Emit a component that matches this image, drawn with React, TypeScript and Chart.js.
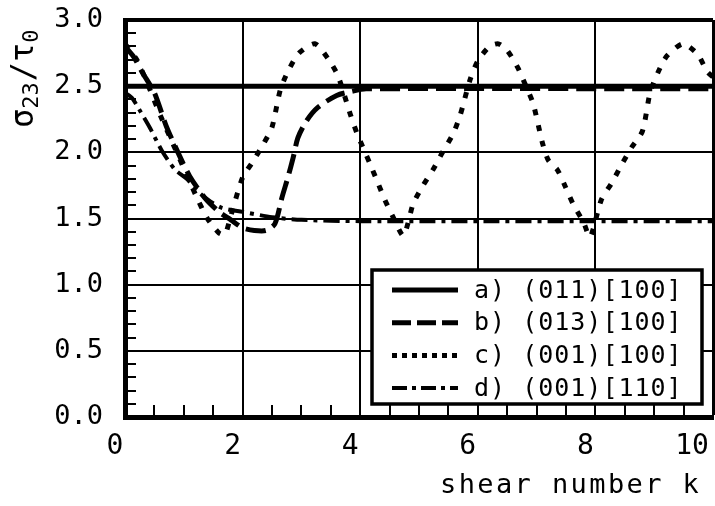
import React, { useEffect, useRef } from "react";
import { Chart, registerables } from "chart.js";

Chart.register(...registerables);

// ---- data ----
const X_TICKS = [0, 2, 4, 6, 8, 10];
const Y_TICKS = [0, 0.5, 1.0, 1.5, 2.0, 2.5, 3.0];
const X_MINOR = [0.5, 1, 1.5, 2.5, 3, 3.5, 4.5, 5, 5.5, 6.5, 7, 7.5, 8.5, 9, 9.5];
const Y_MINOR = [0.1, 0.2, 0.3, 0.4, 0.6, 0.7, 0.8, 0.9, 1.1, 1.2, 1.3, 1.4, 1.6, 1.7, 1.8, 1.9, 2.1, 2.2, 2.3, 2.4, 2.6, 2.7, 2.8, 2.9];

const SERIES_LABELS = ["a) (011)[100]", "b) (013)[100]", "c) (001)[100]", "d) (001)[110]"];
const X_TITLE = "shear number k";

const aX = [0, 10];
const aY = [2.5, 2.5];

const bX = [0, 0.15, 0.3, 0.5, 0.7, 0.9, 1.1, 1.35, 1.6, 1.8, 2.0, 2.2, 2.4, 2.55, 2.67, 2.77, 2.86, 2.94, 3.09, 3.28, 3.6, 3.85, 4.1, 10];
const bY = [2.8, 2.72, 2.6, 2.45, 2.2, 2.0, 1.82, 1.66, 1.55, 1.49, 1.43, 1.41, 1.41, 1.46, 1.66, 1.81, 1.96, 2.11, 2.24, 2.34, 2.43, 2.46, 2.48, 2.48];

const cX = [0, 0.2, 0.4, 0.6, 0.8, 1.0, 1.2, 1.4, 1.6, 1.7, 1.8, 2.0, 2.16, 2.35, 2.5, 2.64, 2.77, 2.96, 3.23, 3.45, 3.62, 3.83, 3.94, 4.17, 4.3, 4.42, 4.56, 4.73, 4.81, 4.9, 5.07, 5.24, 5.4, 5.58, 5.7, 5.87, 6.0, 6.2, 6.35, 6.5, 6.68, 6.8, 6.94, 7.1, 7.2, 7.35, 7.48, 7.62, 7.8, 7.91, 8.1, 8.28, 8.45, 8.62, 8.8, 8.93, 9.06, 9.22, 9.49, 9.74, 9.9, 10];
const cY = [2.82, 2.7, 2.5, 2.28, 2.08, 1.88, 1.68, 1.5, 1.39, 1.38, 1.52, 1.81, 1.92, 2.06, 2.19, 2.47, 2.61, 2.75, 2.82, 2.71, 2.58, 2.29, 2.15, 1.91, 1.77, 1.64, 1.51, 1.37, 1.46, 1.61, 1.75, 1.87, 2.0, 2.14, 2.28, 2.55, 2.69, 2.8, 2.82, 2.77, 2.64, 2.52, 2.37, 2.07, 1.94, 1.87, 1.75, 1.61, 1.47, 1.36, 1.64, 1.77, 1.91, 2.04, 2.16, 2.45, 2.6, 2.73, 2.82, 2.74, 2.61, 2.57];

const dX = [0, 0.12, 0.26, 0.43, 0.63, 0.85, 1.05, 1.25, 1.45, 1.65, 2.0, 2.5, 3.0, 4.0, 10];
const dY = [2.45, 2.41, 2.31, 2.18, 2.01, 1.87, 1.8, 1.7, 1.63, 1.58, 1.55, 1.51, 1.49, 1.48, 1.48];

const zip = (xs: number[], ys: number[]) => xs.map((x, i) => ({ x, y: ys[i] }));

const FONT = "'DejaVu Sans Mono', monospace";
const WIDTHS = [5, 5, 5, 4];
const DASHES: number[][] = [[], [20, 8], [6, 10], [16, 6, 4, 6]];
const LEGEND_DASHES: number[][] = [[], [19, 6], [5, 5], [15, 5, 4, 5]];

const decorPlugin = {
  id: "decor",
  beforeDatasetsDraw(chart: any) {
    const { ctx, chartArea, scales } = chart;
    const xs = scales.x;
    const ys = scales.y;
    ctx.save();
    ctx.strokeStyle = "#000";
    ctx.lineWidth = 2;
    ctx.beginPath();
    Y_MINOR.forEach((v) => {
      const py = Math.round(ys.getPixelForValue(v));
      ctx.moveTo(chartArea.left, py);
      ctx.lineTo(chartArea.left + 11, py);
    });
    X_MINOR.forEach((v) => {
      const px = Math.round(xs.getPixelForValue(v));
      ctx.moveTo(px, chartArea.bottom);
      ctx.lineTo(px, chartArea.bottom - 12);
    });
    ctx.stroke();
    // x tick labels
    ctx.fillStyle = "#000";
    ctx.font = `28px ${FONT}`;
    ctx.textBaseline = "middle";
    ctx.textAlign = "center";
    X_TICKS.forEach((v, i) => {
      const px = xs.getPixelForValue(v);
      const off = i === X_TICKS.length - 1 ? -21 : -10;
      ctx.fillText(String(v), px + off, chartArea.bottom + 30);
    });
    ctx.restore();
  },
  afterDraw(chart: any) {
    const { ctx, chartArea } = chart;
    ctx.save();
    // legend box
    const bl = chartArea.right - 341;
    const br = chartArea.right - 11;
    const bt = chartArea.bottom - 147;
    const bb = chartArea.bottom - 13;
    ctx.fillStyle = "#fff";
    ctx.fillRect(bl, bt, br - bl, bb - bt);
    ctx.strokeStyle = "#000";
    ctx.lineWidth = 3.5;
    ctx.strokeRect(bl, bt, br - bl, bb - bt);
    chart.data.datasets.forEach((ds: any, i: number) => {
      const cy = bt + 20 + i * 32.7;
      ctx.beginPath();
      ctx.setLineDash(LEGEND_DASHES[i]);
      ctx.lineWidth = WIDTHS[i];
      ctx.moveTo(bl + 20, cy);
      ctx.lineTo(bl + 86, cy);
      ctx.stroke();
      ctx.setLineDash([]);
      ctx.fillStyle = "#000";
      ctx.font = `25px ${FONT}`;
      (ctx as any).letterSpacing = "1px";
      ctx.textBaseline = "middle";
      ctx.textAlign = "left";
      ctx.fillText(ds.label, bl + 102, cy + 1);
      (ctx as any).letterSpacing = "0px";
    });
    // x title
    ctx.font = `27px ${FONT}`;
    (ctx as any).letterSpacing = "2.4px";
    ctx.textBaseline = "alphabetic";
    ctx.textAlign = "left";
    ctx.fillText(X_TITLE, 440, 493);
    (ctx as any).letterSpacing = "0px";
    // y title: sigma_23 / tau_0
    ctx.translate(33, 128);
    ctx.rotate(-Math.PI / 2);
    let x = 0;
    const part = (t: string, size: number, dy: number, gap: number) => {
      ctx.font = `${size}px ${FONT}`;
      ctx.fillText(t, x, dy);
      x += ctx.measureText(t).width + gap;
    };
    part("σ", 32, 0, 0);
    part("23", 22, 5, 1);
    part("/", 32, 0, 0);
    part("τ", 32, 0, 0);
    part("0", 22, 5, 0);
    ctx.restore();
  },
};

export default function App() {
  const ref = useRef<HTMLCanvasElement | null>(null);
  useEffect(() => {
    if (!ref.current) return;
    const series = [zip(aX, aY), zip(bX, bY), zip(cX, cY), zip(dX, dY)];
    const chart = new Chart(ref.current, {
      type: "line",
      data: {
        datasets: series.map((d, i) => ({
          label: SERIES_LABELS[i],
          data: d,
          borderColor: "#000",
          backgroundColor: "#000",
          borderWidth: WIDTHS[i],
          borderDash: DASHES[i],
          borderCapStyle: "butt",
          pointRadius: 0,
          tension: 0.25,
          fill: false,
        })),
      },
      options: {
        responsive: false,
        animation: false,
        devicePixelRatio: 1,
        layout: { padding: { top: 20, right: 2, left: 0, bottom: 0 } },
        plugins: { legend: { display: false }, tooltip: { enabled: false } },
        scales: {
          x: {
            type: "linear",
            min: 0,
            max: 10,
            afterBuildTicks: (s: any) => {
              s.ticks = X_TICKS.map((v) => ({ value: v }));
            },
            afterFit: (s: any) => {
              s.height = 89;
              s.paddingLeft = 0;
              s.paddingRight = 0;
            },
            grid: {
              color: "#000",
              lineWidth: (c: any) => (c.tick && c.tick.value === 10 ? 3 : 2),
              drawTicks: false,
            },
            border: { display: true, color: "#000", width: 5 },
            ticks: { display: false },
          },
          y: {
            type: "linear",
            min: 0,
            max: 3,
            afterBuildTicks: (s: any) => {
              s.ticks = Y_TICKS.map((v) => ({ value: v }));
            },
            afterFit: (s: any) => {
              s.width = 125;
              s.paddingTop = 0;
              s.paddingBottom = 0;
            },
            grid: {
              color: "#000",
              lineWidth: (c: any) => (c.tick && c.tick.value === 3 ? 4 : 2),
              drawTicks: false,
            },
            border: { display: true, color: "#000", width: 5 },
            ticks: {
              color: "#000",
              font: { family: FONT, size: 27 },
              padding: 22,
              autoSkip: false,
              callback: (v: any) => Number(v).toFixed(1),
            },
          },
        },
      } as any,
      plugins: [decorPlugin],
    });
    return () => chart.destroy();
  }, []);
  return (
    <div style={{ position: "absolute", left: 0, top: 0, width: 715, height: 506, background: "#fff" }}>
      <canvas ref={ref} width={715} height={506} style={{ display: "block" }} />
    </div>
  );
}
